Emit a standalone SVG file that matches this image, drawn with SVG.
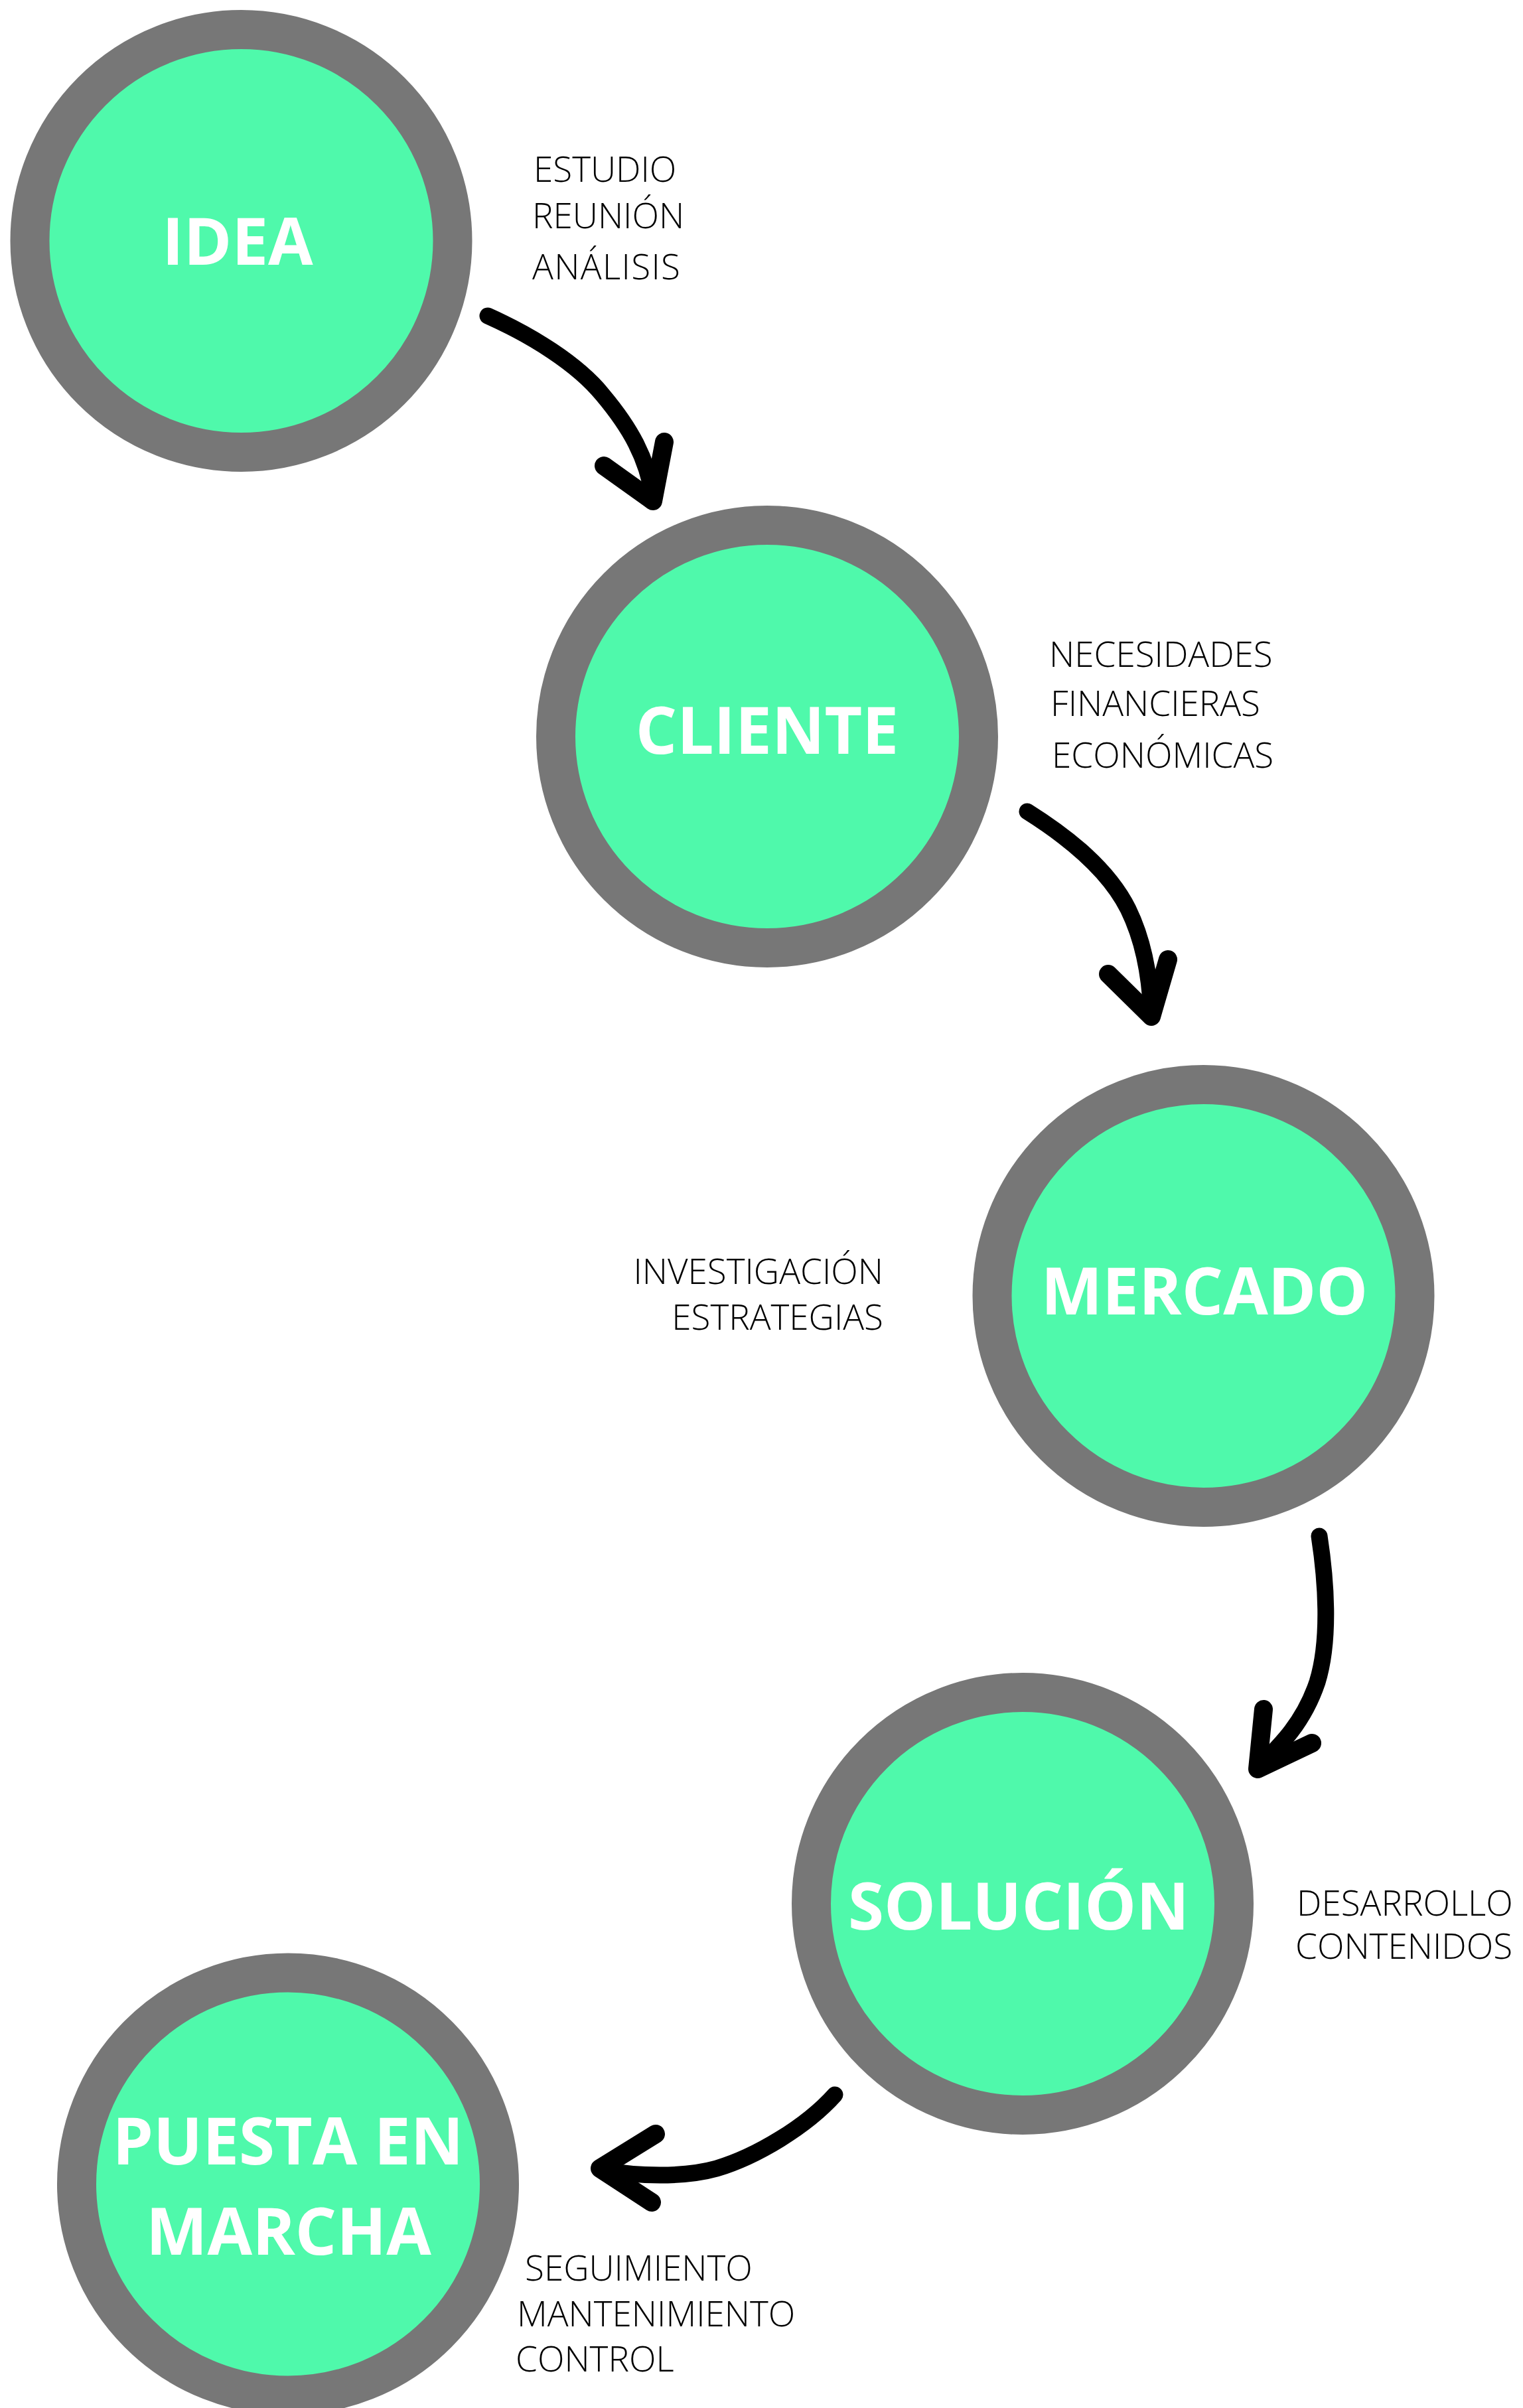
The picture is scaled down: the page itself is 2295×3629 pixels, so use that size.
<svg xmlns="http://www.w3.org/2000/svg" width="2295" height="3629" viewBox="0 0 2295 3629">
<style>
.ring{fill:#4FF9AB;stroke:#777777;stroke-width:59}
.title{font-family:"Open Sans","Liberation Sans",sans-serif;font-weight:700;font-size:98px;fill:#FFFFFF;text-anchor:middle}
.lbl{font-family:"Open Sans","Liberation Sans",sans-serif;font-weight:300;font-size:53px;fill:#000000}
.body{fill:none;stroke:#000;stroke-width:25;stroke-linecap:round;stroke-linejoin:round}
.head{fill:none;stroke:#000;stroke-width:28;stroke-linecap:round;stroke-linejoin:round}
</style>
<rect width="2295" height="3629" fill="#FFFFFF"/>
<g id="connectors">
  <g id="arrow-idea-cliente">
    <path class="body" d="M735,476 C800,505 870,548 908,595 C950,645 975,690 984,748"/>
    <path class="head" d="M910,702 L984,755 L1001,666"/>
  </g>
  <g id="arrow-cliente-mercado">
    <path class="body" d="M1548,1223 C1610,1262 1670,1310 1700,1370 C1722,1415 1733,1470 1735,1528"/>
    <path class="head" d="M1670,1468 L1735,1532 L1760,1446"/>
  </g>
  <g id="arrow-mercado-solucion">
    <path class="body" d="M1988,2315 C1998,2380 2005,2470 1985,2535 C1965,2595 1930,2630 1897,2662"/>
    <path class="head" d="M1904,2576 L1895,2666 L1977,2627"/>
  </g>
  <g id="arrow-solucion-puesta">
    <path class="body" d="M1258,3157 C1215,3205 1140,3250 1080,3268 C1030,3282 960,3280 906,3270"/>
    <path class="head" d="M988,3216 L904,3268 L982,3319"/>
  </g>
</g>
<g id="node-idea">
  <circle class="ring" cx="363.5" cy="363" r="318.5"/>
  <text class="title" x="358" y="398.5">IDEA</text>
</g>
<g id="label-idea">
  <text class="lbl" x="804" y="273.5">ESTUDIO</text>
  <text class="lbl" x="802" y="343.5">REUNIÓN</text>
  <text class="lbl" x="802" y="421" textLength="223" lengthAdjust="spacing">ANÁLISIS</text>
</g>
<g id="node-cliente">
  <circle class="ring" cx="1156" cy="1110" r="318.5"/>
  <text class="title" x="1156" y="1136">CLIENTE</text>
</g>
<g id="label-cliente">
  <text class="lbl" x="1581" y="1005">NECESIDADES</text>
  <text class="lbl" x="1583" y="1078.5">FINANCIERAS</text>
  <text class="lbl" x="1585" y="1156.5">ECONÓMICAS</text>
</g>
<g id="node-mercado">
  <circle class="ring" cx="1813.5" cy="1953" r="318.5"/>
  <text class="title" x="1815" y="1981">MERCADO</text>
</g>
<g id="label-mercado">
  <text class="lbl" x="1331" y="1935" text-anchor="end">INVESTIGACIÓN</text>
  <text class="lbl" x="1331" y="2004" text-anchor="end">ESTRATEGIAS</text>
</g>
<g id="node-solucion">
  <circle class="ring" cx="1541" cy="2869" r="318.5"/>
  <text class="title" x="1535" y="2908">SOLUCIÓN</text>
</g>
<g id="label-solucion">
  <text class="lbl" x="1954" y="2887">DESARROLLO</text>
  <text class="lbl" x="1952" y="2952">CONTENIDOS</text>
</g>
<g id="node-puesta">
  <circle class="ring" cx="434" cy="3291.5" r="318.5"/>
  <text class="title" x="434" y="3262">PUESTA EN</text>
  <text class="title" x="435" y="3398">MARCHA</text>
</g>
<g id="label-puesta">
  <text class="lbl" x="791" y="3437">SEGUIMIENTO</text>
  <text class="lbl" x="779" y="3505.5">MANTENIMIENTO</text>
  <text class="lbl" x="777" y="3574">CONTROL</text>
</g>
</svg>
